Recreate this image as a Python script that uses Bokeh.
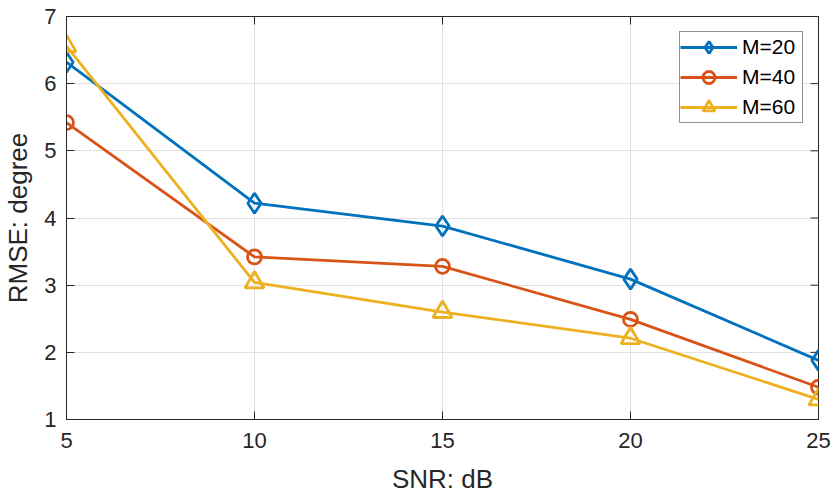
import math
from bokeh.plotting import figure
from bokeh.models import Legend, LegendItem, Range1d, FixedTicker
from bokeh.embed import file_html
from bokeh.resources import INLINE

# RMSE (degrees) versus SNR (dB) for three array sizes
snr = [5, 10, 15, 20, 25]
rmse_m20 = [6.32, 4.22, 3.88, 3.09, 1.88]
rmse_m40 = [5.42, 3.42, 3.28, 2.49, 1.48]
rmse_m60 = [6.56, 3.04, 2.60, 2.21, 1.30]
series_labels = ["M=20", "M=40", "M=60"]
x_ticks = [5, 10, 15, 20, 25]
y_ticks = [1, 2, 3, 4, 5, 6, 7]
x_min, x_max = 5, 25
y_min, y_max = 1, 7

FONT = "Liberation Sans"
INK = "#262626"
colors = ["#0072BD", "#D95319", "#EDB120"]
markers = ["diamond", "circle", "triangle"]
sizes = [20, 14, 19]
LW = 2.8

p = figure(width=834, height=497, output_backend="svg", toolbar_location=None,
           x_range=Range1d(x_min, x_max), y_range=Range1d(y_min, y_max),
           min_border_left=66, min_border_right=16,
           min_border_top=16, min_border_bottom=78)
p.background_fill_color = "white"
p.border_fill_color = "white"
p.outline_line_color = INK
p.outline_line_width = 1

# axes with inward ticks
p.xaxis.ticker = FixedTicker(ticks=x_ticks)
p.yaxis.ticker = FixedTicker(ticks=y_ticks)
p.xaxis.axis_label = "SNR: dB"
p.yaxis.axis_label = "RMSE: degree"
for ax in (p.xaxis[0], p.yaxis[0]):
    ax.axis_line_color = INK
    ax.major_tick_line_color = INK
    ax.major_tick_in = 8
    ax.major_tick_out = 0
    ax.minor_tick_line_color = None
    ax.major_label_text_font = FONT
    ax.major_label_text_font_size = "22px"
    ax.major_label_text_color = INK
    ax.axis_label_text_font = FONT
    ax.axis_label_text_font_size = "26px"
    ax.axis_label_text_font_style = "normal"
    ax.axis_label_text_color = INK
p.xaxis.major_label_standoff = 13
p.xaxis.axis_label_standoff = 13
p.yaxis.major_label_standoff = 10
p.yaxis.axis_label_standoff = 8

# tick marks along the top and right edges of the box
p.scatter(x_ticks, [y_max] * len(x_ticks), marker="dash", size=16,
          angle=math.pi / 2, line_color=INK, line_width=1)
p.scatter([x_max] * len(y_ticks), y_ticks, marker="dash", size=16,
          line_color=INK, line_width=1)

p.xgrid.ticker = FixedTicker(ticks=x_ticks)
p.ygrid.ticker = FixedTicker(ticks=y_ticks)
p.xgrid.grid_line_color = "#e1e1e1"
p.ygrid.grid_line_color = "#e1e1e1"
p.xgrid.grid_line_width = 1
p.ygrid.grid_line_width = 1

items = []
for ys, lab, c, m, s in zip([rmse_m20, rmse_m40, rmse_m60], series_labels,
                            colors, markers, sizes):
    ln = p.line(snr, ys, line_color=c, line_width=LW)
    mk = p.scatter(snr, ys, marker=m, size=s, line_color=c, line_width=LW,
                   fill_color=None)
    items.append(LegendItem(label=lab, renderers=[ln, mk]))

legend = Legend(items=items, location="top_right")
legend.margin = 15
legend.padding = 0
legend.spacing = -2
legend.glyph_width = 57
legend.glyph_height = 30
legend.label_height = 30
legend.label_width = 60
legend.label_standoff = 5
legend.label_text_font = FONT
legend.label_text_font_size = "21px"
legend.label_text_color = "black"
legend.border_line_color = INK
legend.border_line_width = 1
legend.background_fill_color = "white"
p.add_layout(legend)

open("out.html", "w").write(file_html(p, INLINE))
